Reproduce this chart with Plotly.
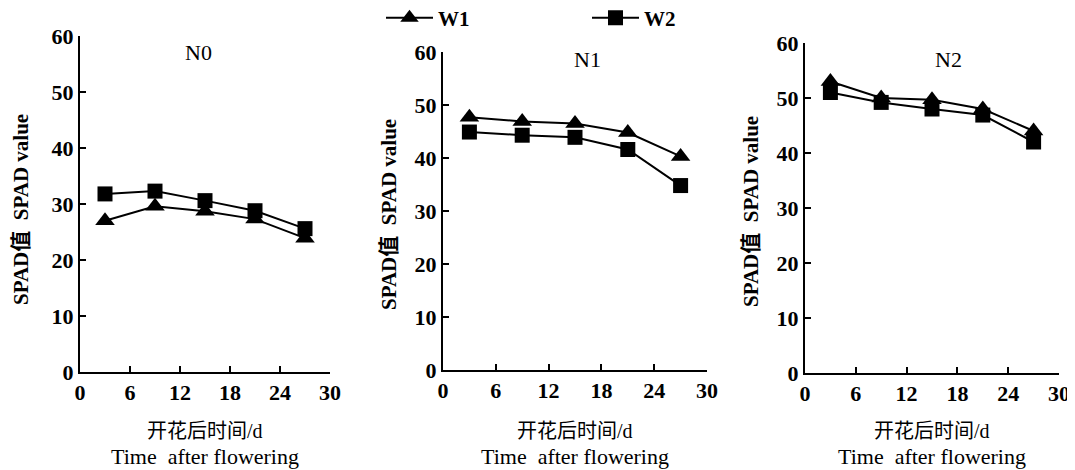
import plotly.graph_objects as go

days = [3, 9, 15, 21, 27]
panels = ["N0", "N1", "N2"]
w1 = {
    "N0": [27.0, 29.6, 28.7, 27.3, 23.9],
    "N1": [47.7, 46.9, 46.5, 44.8, 40.3],
    "N2": [53.0, 50.0, 49.7, 48.0, 44.0],
}
w2 = {
    "N0": [31.8, 32.3, 30.6, 28.8, 25.6],
    "N1": [44.9, 44.3, 43.9, 41.6, 34.8],
    "N2": [51.0, 49.2, 48.0, 46.9, 42.0],
}
x_ticks = [0, 6, 12, 18, 24, 30]
y_ticks = [0, 10, 20, 30, 40, 50, 60]
y_title = "SPAD值\u00a0\u00a0SPAD value"
x_title_cn = "开花后时间/d"
x_title_en = "Time\u00a0\u00a0after flowering"

OFF = 8  # page body margin
W, H = 1075 - OFF, 470 - OFF


def fx(px):
    return (px - OFF) / W


def fy(py):
    return 1 - (py - OFF) / H


# pixel boxes of plot areas in the page: (left, right, top, bottom)
boxes = [(80, 330, 36, 372), (443, 707, 52, 370), (805, 1059, 43, 373)]
ytitle_pos = [(21, 210), (389, 215), (751, 212)]
ptitle_pos = [(198, 52), (587, 60), (948, 60)]

FONT = "Liberation Serif, Times New Roman, Noto Sans CJK SC, serif"
fig = go.Figure()

for i, p in enumerate(panels):
    xa = "x" if i == 0 else f"x{i+1}"
    ya = "y" if i == 0 else f"y{i+1}"
    fig.add_trace(go.Scatter(x=days, y=w2[p], mode="lines+markers", name="W2",
                             xaxis=xa, yaxis=ya, showlegend=(i == 0), legendrank=2,
                             line=dict(color="black", width=2),
                             marker=dict(symbol="square", size=15, color="black")))
    fig.add_trace(go.Scatter(x=days, y=w1[p], mode="lines+markers", name="W1",
                             xaxis=xa, yaxis=ya, showlegend=(i == 0), legendrank=1,
                             line=dict(color="black", width=2),
                             marker=dict(symbol="triangle-up", size=17, color="black")))

BOLD = dict(family=FONT, weight="bold", color="black")
REG = dict(family=FONT, weight="normal", color="black")
layout = dict(
    width=W, height=H, margin=dict(l=0, r=0, t=0, b=0, autoexpand=False),
    paper_bgcolor="white", plot_bgcolor="white",
    font=dict(family=FONT, size=19, color="black"),
    showlegend=True,
    legend=dict(orientation="h", x=fx(381), y=fy(18), xref="container", yref="container",
                xanchor="left", yanchor="middle", itemwidth=47,
                entrywidth=144, entrywidthmode="pixels",
                font=dict(size=21, **BOLD), bgcolor="rgba(0,0,0,0)",
                traceorder="normal"),
)
annotations = []
for i, (l, r, t, b) in enumerate(boxes):
    sx = "" if i == 0 else str(i + 1)
    layout["xaxis" + sx] = dict(
        domain=[fx(l), fx(r)], range=[0, 30], tickvals=x_ticks, automargin=False,
        showline=True, linecolor="black", linewidth=2, ticks="inside", ticklen=6,
        tickwidth=2, tickcolor="black", showgrid=False, zeroline=False,
        anchor="y" + sx, tickfont=dict(size=22, **BOLD), fixedrange=True)
    layout["yaxis" + sx] = dict(
        domain=[fy(b), fy(t)], range=[0, 60], tickvals=y_ticks, automargin=False,
        showline=True, linecolor="black", linewidth=2, ticks="inside", ticklen=6,
        tickwidth=2, tickcolor="black", showgrid=False, zeroline=False,
        anchor="x" + sx, tickfont=dict(size=22, **BOLD), fixedrange=True)
    cx = (l + r) / 2
    annotations.append(dict(text=x_title_cn, x=fx(cx), y=fy(431), xref="paper", yref="paper",
                            showarrow=False, font=dict(size=20, **REG), xanchor="center", yanchor="middle"))
    annotations.append(dict(text=x_title_en, x=fx(cx), y=fy(456), xref="paper", yref="paper",
                            showarrow=False, font=dict(size=22, **REG), xanchor="center", yanchor="middle"))
    yx, yy = ytitle_pos[i]
    annotations.append(dict(text=y_title, x=fx(yx), y=fy(yy), xref="paper", yref="paper",
                            showarrow=False, textangle=-90, font=dict(size=21, **BOLD),
                            xanchor="center", yanchor="middle"))
    px, py = ptitle_pos[i]
    annotations.append(dict(text=panels[i], x=fx(px), y=fy(py), xref="paper", yref="paper",
                            showarrow=False, font=dict(size=22, **REG), xanchor="center", yanchor="middle"))
layout["annotations"] = annotations
fig.update_layout(**layout)
fig.write_html("out.html")
